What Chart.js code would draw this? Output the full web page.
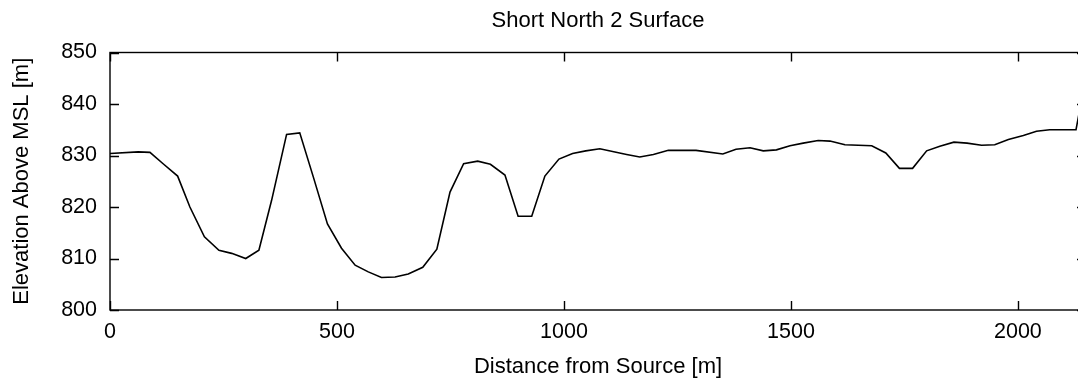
<!DOCTYPE html>
<html>
<head>
<meta charset="utf-8">
<script src="https://cdn.jsdelivr.net/npm/chart.js@4/dist/chart.umd.min.js"></script>
<style>
  html, body { margin: 0; padding: 0; background: #fff; overflow: hidden; }
  #wrap { width: 1090px; height: 381px; position: relative; }
</style>
</head>
<body>
<div id="wrap"><canvas id="surface"></canvas></div>
<script>
// distance along profile [m] and surface elevation [m]
const distance = [0, 62, 88, 117, 149, 176, 208, 240, 268, 299, 328, 356, 389, 418, 448, 479, 510,
  540, 569, 598, 628, 657, 689, 720, 749, 779, 810, 838, 870, 899, 929, 958, 989, 1019, 1048,
  1079, 1138, 1167, 1197, 1230, 1291, 1350, 1379, 1410, 1439, 1468, 1498, 1527, 1560, 1586,
  1619, 1678, 1709, 1739, 1768, 1799, 1828, 1859, 1888, 1920, 1949, 1979, 2012, 2041, 2070,
  2128, 2145]
const elevation = [830.4, 830.7, 830.6, 828.4, 826.0, 820.0, 814.2, 811.6, 811.0, 810.0, 811.6,
  821.3, 834.1, 834.4, 825.8, 816.7, 812.0, 808.7, 807.4, 806.3, 806.4, 807.0, 808.3, 811.8,
  822.9, 828.4, 828.9, 828.3, 826.2, 818.2, 818.2, 826.0, 829.3, 830.4, 830.9, 831.3, 830.2,
  829.7, 830.2, 831.0, 831.0, 830.3, 831.2, 831.5, 830.9, 831.1, 831.9, 832.4, 832.9, 832.8,
  832.1, 831.9, 830.5, 827.5, 827.5, 830.9, 831.8, 832.6, 832.4, 832.0, 832.1, 833.1, 833.9,
  834.7, 835.0, 835.0, 843.0]

const xTicks = [0, 500, 1000, 1500, 2000]
const yTicks = [800, 810, 820, 830, 840, 850]
const chartTitle = 'Short North 2 Surface'
const xLabel = 'Distance from Source [m]'
const yLabel = 'Elevation Above MSL [m]'

const FONT = 'Liberation Sans, Arial, Helvetica, sans-serif'

let points = []
for (let i = 0; i < distance.length; i++) {
  points.push({x: distance[i], y: elevation[i]})
}

// gnuplot-ish frame: border box, inward ticks on all sides, title over plot area
const framePlugin = {
  id: 'frame',
  afterDraw(chart) {
    const ctx = chart.ctx
    const a = chart.chartArea
    const xs = chart.scales.x
    const ys = chart.scales.y
    ctx.save()
    ctx.strokeStyle = '#000'
    ctx.lineWidth = 1.4
    ctx.strokeRect(a.left, a.top, a.right - a.left, a.bottom - a.top)
    ctx.beginPath()
    xTicks.forEach(v => {
      const px = Math.round(xs.getPixelForValue(v)) + 0.5
      ctx.moveTo(px, a.bottom); ctx.lineTo(px, a.bottom - 9)
      ctx.moveTo(px, a.top); ctx.lineTo(px, a.top + 9)
    })
    yTicks.forEach(v => {
      const py = Math.round(ys.getPixelForValue(v)) + 0.5
      ctx.moveTo(a.left, py); ctx.lineTo(a.left + 9, py)
      ctx.moveTo(a.right, py); ctx.lineTo(a.right - 9, py)
    })
    ctx.stroke()
    ctx.fillStyle = '#000'
    ctx.font = '22px ' + FONT
    ctx.textAlign = 'center'
    ctx.textBaseline = 'alphabetic'
    ctx.fillText(chartTitle, (a.left + a.right) / 2, 27)
    ctx.restore()
  }
}

new Chart(document.getElementById('surface'), {
  type: 'line',
  data: {
    datasets: [{
      data: points,
      borderColor: '#000',
      borderWidth: 1.6,
      pointRadius: 0,
      fill: false,
      tension: 0
    }]
  },
  options: {
    responsive: true,
    maintainAspectRatio: false,
    animation: false,
    layout: { padding: { top: 52.5, right: 4, left: 0, bottom: 0 } },
    plugins: { legend: { display: false }, tooltip: { enabled: false }, title: { display: false } },
    scales: {
      x: {
        type: 'linear',
        min: 0,
        max: 2150,
        afterFit: s => { s.height = 71 },
        afterBuildTicks: s => { s.ticks = xTicks.map(v => ({value: v})) },
        grid: { display: false, drawTicks: false, tickLength: 0 },
        border: { display: false },
        ticks: { color: '#000', font: { family: FONT, size: 21.5 }, padding: 9, maxRotation: 0,
          callback: v => String(v) },
        title: { display: true, text: xLabel, color: '#000', font: { family: FONT, size: 22 }, padding: { top: 0, bottom: 1 } }
      },
      y: {
        min: 800,
        max: 850,
        afterFit: s => { s.width = 110 },
        afterBuildTicks: s => { s.ticks = yTicks.map(v => ({value: v})) },
        grid: { display: false, drawTicks: false, tickLength: 0 },
        border: { display: false },
        ticks: { color: '#000', font: { family: FONT, size: 21.5 }, padding: 13,
          callback: v => String(v) },
        title: { display: true, text: yLabel, color: '#000', font: { family: FONT, size: 22 }, padding: { top: 9, bottom: 0 } }
      }
    }
  },
  plugins: [framePlugin]
})
</script>
</body>
</html>
